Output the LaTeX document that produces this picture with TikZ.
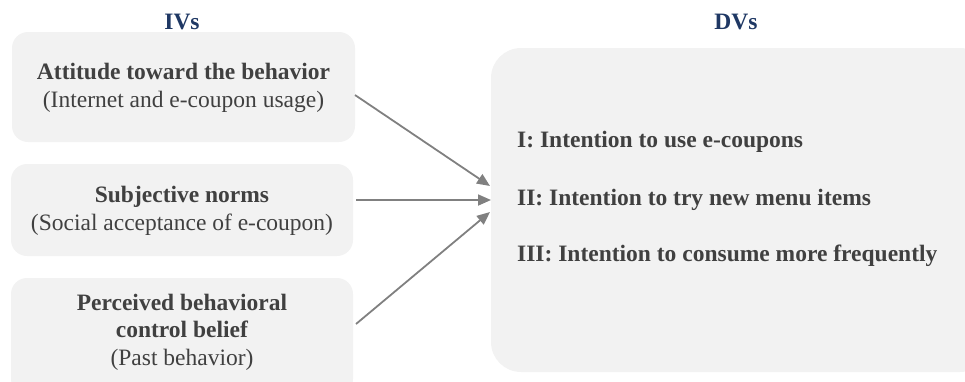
\documentclass[tikz,border=0pt]{standalone}
\usepackage{fontspec}
\setmainfont{Liberation Serif}
\usetikzlibrary{arrows.meta}
\definecolor{boxfill}{HTML}{F2F2F2}
\definecolor{txt}{HTML}{404040}
\definecolor{head}{HTML}{1F3864}
\definecolor{arr}{HTML}{808080}
\begin{document}
\begin{tikzpicture}[x=1pt,y=-1pt,
  ivbox/.style={fill=boxfill,rounded corners=16pt},
  dvbox/.style={fill=boxfill,rounded corners=30pt},
  lbl/.style={text=txt,align=center,font=\fontsize{23.5}{27.5}\selectfont},
  dvl/.style={text=txt,anchor=west,inner sep=0pt,font=\fontsize{23.5}{27.5}\selectfont\bfseries},
  hd/.style={text=head,font=\fontsize{23.5}{27.5}\selectfont\bfseries},
  conn/.style={draw=arr,line width=1.8pt,-{Triangle[length=13pt,width=11pt]}}]
\useasboundingbox (0,0) rectangle (965,381);
% boxes
\path[ivbox] (12,32) rectangle (355,142);
\path[ivbox] (11,164) rectangle (353,256);
\path[ivbox] (11,278) rectangle (353,395);
\path[dvbox] (491,48) rectangle (990,372);
% headings
\node[hd] (iv) at (182,22) {IVs};
\node[hd] (dv) at (736,22) {DVs};
% IV texts
\node[lbl] (a) at (183.5,88) {\textbf{Attitude toward the behavior}\\(Internet and e-coupon usage)};
\node[lbl] (b) at (182,211) {\textbf{Subjective norms}\\(Social acceptance of e-coupon)};
\node[lbl] (c) at (182,332) {\textbf{Perceived behavioral}\\\textbf{control belief}\\(Past behavior)};
% DV texts
\node[dvl] (d1) at (517,142) {I: Intention to use e-coupons};
\node[dvl] (d2) at (517,200) {II: Intention to try new menu items};
\node[dvl] (d3) at (517,256) {III: Intention to consume more frequently};
% connector ends
\coordinate (s1) at (355,95);
\coordinate (s2) at (356,200);
\coordinate (s3) at (356,324);
\coordinate (e1) at (490,186);
\coordinate (e2) at (491,200);
\coordinate (e3) at (490,212);
\draw[conn] (s1) -- (e1);
\draw[conn] (s2) -- (e2);
\draw[conn] (s3) -- (e3);
\end{tikzpicture}
\end{document}
